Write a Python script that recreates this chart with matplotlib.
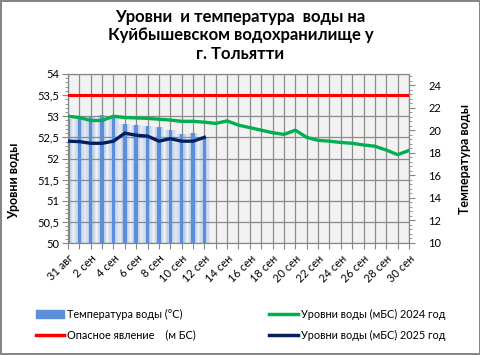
import matplotlib
matplotlib.use("Agg")
import numpy as np
import matplotlib.pyplot as plt
from matplotlib.patches import Patch
from matplotlib.lines import Line2D
from matplotlib.ticker import MultipleLocator

plt.rcParams['font.family'] = ['Lato', 'DejaVu Sans']

# days 31 aug .. 30 sep
days = ["31 авг"] + [f"{d} сен" for d in range(1, 31)]

# water temperature, 2025 (°C)
temp_2025 = [21.0, 21.0, 21.3, 21.4, 21.2, 20.6, 20.5, 20.4, 20.3, 20.0,
             19.7, 19.8, 19.4]

# water level 2024 (m BS)
level_2024 = [53.00, 52.97, 52.90, 52.90, 53.00, 52.97, 52.96, 52.95, 52.93,
              52.91, 52.88, 52.88, 52.86, 52.83, 52.89, 52.79, 52.73, 52.67,
              52.61, 52.57, 52.67, 52.50, 52.43, 52.41, 52.38, 52.36, 52.32,
              52.29, 52.20, 52.09, 52.19]

# water level 2025 (m BS)
level_2025 = [52.41, 52.40, 52.36, 52.36, 52.41, 52.60, 52.55, 52.53, 52.41,
              52.47, 52.41, 52.41, 52.50]

danger_level = 53.5

x_all = list(range(len(days)))

fig = plt.figure(figsize=(4.81, 3.55), dpi=100)
fig.patch.set_facecolor("white")
fig.patch.set_edgecolor("#868686")
fig.patch.set_linewidth(1.5)

rect = [68 / 481, 1 - 243 / 355, (409 - 68) / 481, (243 - 74) / 355]

# bottom axes: left scale, background and grid
ax = fig.add_axes(rect)
ax.set_facecolor("#F2F2F2")
level_ticks = np.arange(50, 54.01, 0.5)
ax.set_yticks(level_ticks)
ax.set_yticklabels([f"{v:g}".replace(".", ",") for v in level_ticks])
ax.yaxis.set_minor_locator(MultipleLocator(0.1))
ax.set_ylim(50, 54)
ax.set_xticks(x_all)
ax.set_xticklabels([d if i % 2 == 0 else "" for i, d in enumerate(days)],
                   rotation=45, ha="right", rotation_mode="anchor")
ax.set_xlim(0, len(days) - 1)
ax.grid(True, color="#8C8C8C", linewidth=0.9)
ax.tick_params(axis="both", which="major", labelsize=8, length=4,
               color="#868686", pad=2)
ax.tick_params(axis="y", which="minor", length=2.5, color="#868686")
ax.tick_params(axis="x", pad=3)
for s in ax.spines.values():
    s.set_color("#868686")
ax.set_ylabel("Уровни воды", fontsize=9, fontweight="bold")
ax.yaxis.set_label_coords(-0.14, 0.37)

# temperature bars on the right scale
ax2 = ax.twinx()
ax2.set_yticks(range(10, 25, 2))
ax2.yaxis.set_minor_locator(MultipleLocator(0.4))
ax2.set_ylim(10, 25)
ax2.tick_params(axis="y", which="major", labelsize=8, length=4,
                color="#868686", pad=10)
ax2.tick_params(axis="y", which="minor", length=2.5, color="#868686")
for s in ax2.spines.values():
    s.set_color("#868686")
x_bar = x_all[:len(temp_2025)]
for w, a in [(0.95, 0.10), (0.75, 0.12), (0.5, 0.16)]:
    ax2.bar(x_bar, temp_2025, width=w, color="#5B8FDA", alpha=a,
            linewidth=0)
ax2.bar(x_bar, temp_2025, width=0.3, color="#5B8FDA", linewidth=0)
ax2.set_ylabel("Температура воды", fontsize=9, fontweight="bold",
               labelpad=13)
ax2.set_xlim(0, len(days) - 1)

# level lines on top
ax3 = ax.twinx()
ax3.plot(x_all, [danger_level] * len(days), color="#FF0000", lw=2.2)
ax3.plot(x_all, level_2024, color="#00B050", lw=2.4)
ax3.plot(x_all[:len(level_2025)], level_2025, color="#002060", lw=2.4)
ax3.set_ylim(50, 54)
ax3.set_xlim(0, len(days) - 1)
ax3.axis("off")

fig.suptitle("Уровни  и температура  воды на\nКуйбышевском водохранилище у\nг. Тольятти",
             fontsize=12, fontweight="bold", y=0.975, linespacing=1.2)

handles = [
    Patch(color="#5B8FDA"),
    Line2D([], [], color="#FF0000", lw=2.5),
    Line2D([], [], color="#00B050", lw=2.5),
    Line2D([], [], color="#002060", lw=2.5),
]
labels = [
    "Температура воды (°С)",
    "Опасное явление    (м БС)",
    "Уровни воды (мБС) 2024 год",
    "Уровни воды (мБС) 2025 год",
]
fig.legend(handles, labels, ncol=2, loc="center", bbox_to_anchor=(0.5, 0.085),
           frameon=False, fontsize=7.8, handlelength=2.6, handletextpad=0.3,
           columnspacing=6.8, labelspacing=0.9)

fig.savefig("out.png", dpi=100)
